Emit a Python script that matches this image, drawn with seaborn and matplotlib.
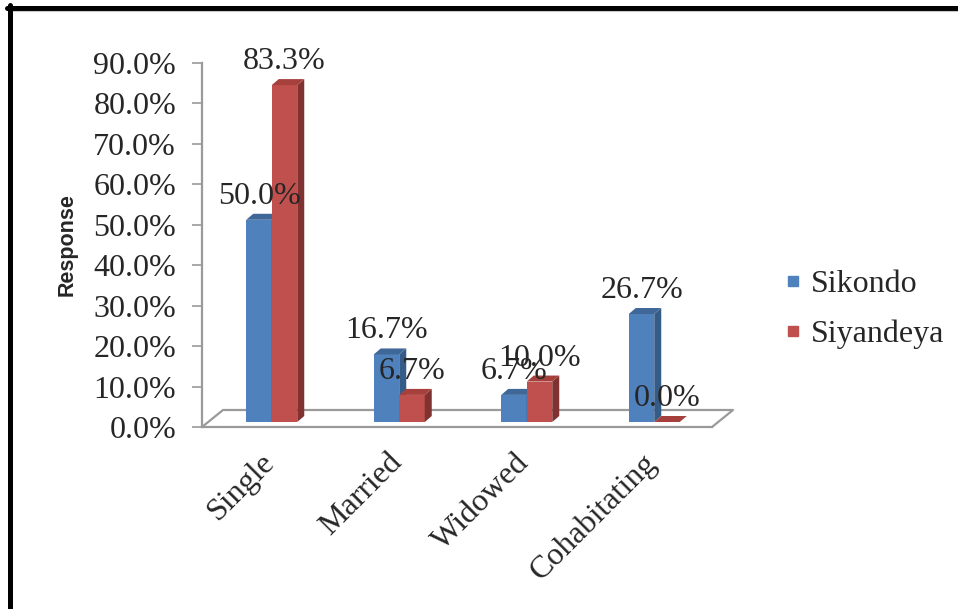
import matplotlib
matplotlib.use("Agg")
import matplotlib.pyplot as plt
from matplotlib.transforms import ScaledTranslation, blended_transform_factory
from matplotlib.patches import Polygon
from matplotlib.lines import Line2D
import pandas as pd
import seaborn as sns

# Marital status of respondents in the two villages (percent)
statuses = ["Single", "Married", "Widowed", "Cohabitating"]
sites = ["Sikondo", "Siyandeya"]
sikondo = [50.0, 16.7, 6.7, 26.7]
siyandeya = [83.3, 6.7, 10.0, 0.0]
y_ticks = [0, 10, 20, 30, 40, 50, 60, 70, 80, 90]

front_colors = ["#4F81BD", "#C0504D"]
top_colors = ["#3F6898", "#A5403D"]
side_colors = ["#355B87", "#803230"]
axis_gray = "#9A9A9A"

df = pd.DataFrame({
    "status": statuses * 2,
    "site": [sites[0]] * len(statuses) + [sites[1]] * len(statuses),
    "value": sikondo + siyandeya,
})

sns.set_style("white")
plt.rcParams["font.family"] = ["Liberation Serif", "DejaVu Serif"]

W, H = 958, 609
fig = plt.figure(figsize=(W / 100, H / 100), dpi=100)
ax_l, ax_r, ax_b, ax_t = 202, 712, 427, 63
ax = fig.add_axes([ax_l / W, 1 - ax_b / H, (ax_r - ax_l) / W, (ax_b - ax_t) / H])

sns.barplot(data=df, x="status", y="value", hue="site", order=statuses,
            hue_order=sites, palette=front_colors, saturation=1, width=0.4,
            errorbar=None, legend=False, ax=ax)
ax.set_xlim(-0.5, 3.5)
ax.set_ylim(0, 90)

# pseudo-3D: bars sit a little behind the front edge of the floor
bar_shift = ScaledTranslation(6 / 100, 5 / 100, fig.dpi_scale_trans)
bar_tr = ax.transData + bar_shift
sx = (ax_r - ax_l) / 4.0          # pixels per category
sy = (ax_b - ax_t) / 90.0         # pixels per percent
ddx, ddy = 7 / sx, 6 / sy         # bar depth in data units

for i, cont in enumerate(ax.containers):
    for bar in cont:
        x0, w, h = bar.get_x(), bar.get_width(), bar.get_height()
        z = 3 + i
        bar.set_transform(bar_tr)
        bar.set_clip_on(False)
        bar.set_zorder(z)
        bar.set_linewidth(0)
        top = Polygon([(x0, h), (x0 + w, h), (x0 + w + ddx, h + ddy), (x0 + ddx, h + ddy)],
                      closed=True, facecolor=top_colors[i], edgecolor="none",
                      transform=bar_tr, zorder=z, clip_on=False)
        side = Polygon([(x0 + w, 0), (x0 + w + ddx, ddy), (x0 + w + ddx, h + ddy), (x0 + w, h)],
                       closed=True, facecolor=side_colors[i], edgecolor="none",
                       transform=bar_tr, zorder=z, clip_on=False)
        ax.add_patch(side)
        ax.add_patch(top)
        ax.annotate(f"{h:.1f}%", xy=(x0 + w / 2, h), xycoords=bar_tr,
                    xytext=(0, 16), textcoords="offset pixels",
                    ha="center", va="baseline", fontsize=23, zorder=10)

# floor outline (back and side edges)
fdx, fdy = 21 / (ax_r - ax_l), 17 / (ax_b - ax_t)
ax.plot([0, fdx, 1 + fdx, 1], [0, fdy, fdy, 0], transform=ax.transAxes,
        color=axis_gray, lw=1.6, clip_on=False, zorder=1)

for s in ["top", "right"]:
    ax.spines[s].set_visible(False)
for s in ["left", "bottom"]:
    ax.spines[s].set_color(axis_gray)
    ax.spines[s].set_linewidth(1.6)
ax.spines["bottom"].set_zorder(1)

ax.set_yticks(y_ticks)
ax.set_yticklabels([f"{v:.1f}%" for v in y_ticks])
ax.tick_params(axis="y", left=True, length=7.2, width=1.2, color=axis_gray,
               pad=11.5, labelsize=23)
ax.set_xticks([])
ax.set_xlabel("")
ax.set_ylabel("")

xlab_tr = blended_transform_factory(ax.transData, ax.transAxes)
for k, name in enumerate(statuses):
    ax.text(k - 6 / sx, -21 / (ax_b - ax_t), name, transform=xlab_tr,
            rotation=45, rotation_mode="anchor", ha="right", va="top",
            fontsize=23, clip_on=False)

fig.text(67 / W, 1 - 245 / H, "Response", rotation=90, ha="center", va="center",
         fontsize=15.5, fontweight="bold", family=["Liberation Sans", "DejaVu Sans"])

handles = [Line2D([], [], marker="s", linestyle="none", markersize=7.5,
                  markerfacecolor=c, markeredgecolor=c) for c in front_colors]
ax.legend(handles, sites, loc="center left", bbox_to_anchor=(785 / W, 1 - 309.5 / H),
          bbox_transform=fig.transFigure, frameon=False, fontsize=23,
          handlelength=0.5, handletextpad=0.3, labelspacing=0.65,
          borderpad=0, borderaxespad=0)

# page frame
fig.add_artist(Line2D([7 / W, 1], [1 - 7.5 / H] * 2, color="black", lw=3.6,
                      transform=fig.transFigure))
fig.add_artist(Line2D([12 / W, 1], [1 - 11 / H] * 2, color="#C8C8C8", lw=0.8,
                      transform=fig.transFigure))
fig.add_artist(Line2D([9.5 / W] * 2, [0, 1 - 5 / H], color="black", lw=3.6,
                      transform=fig.transFigure))

fig.savefig("out.png", dpi=100)
